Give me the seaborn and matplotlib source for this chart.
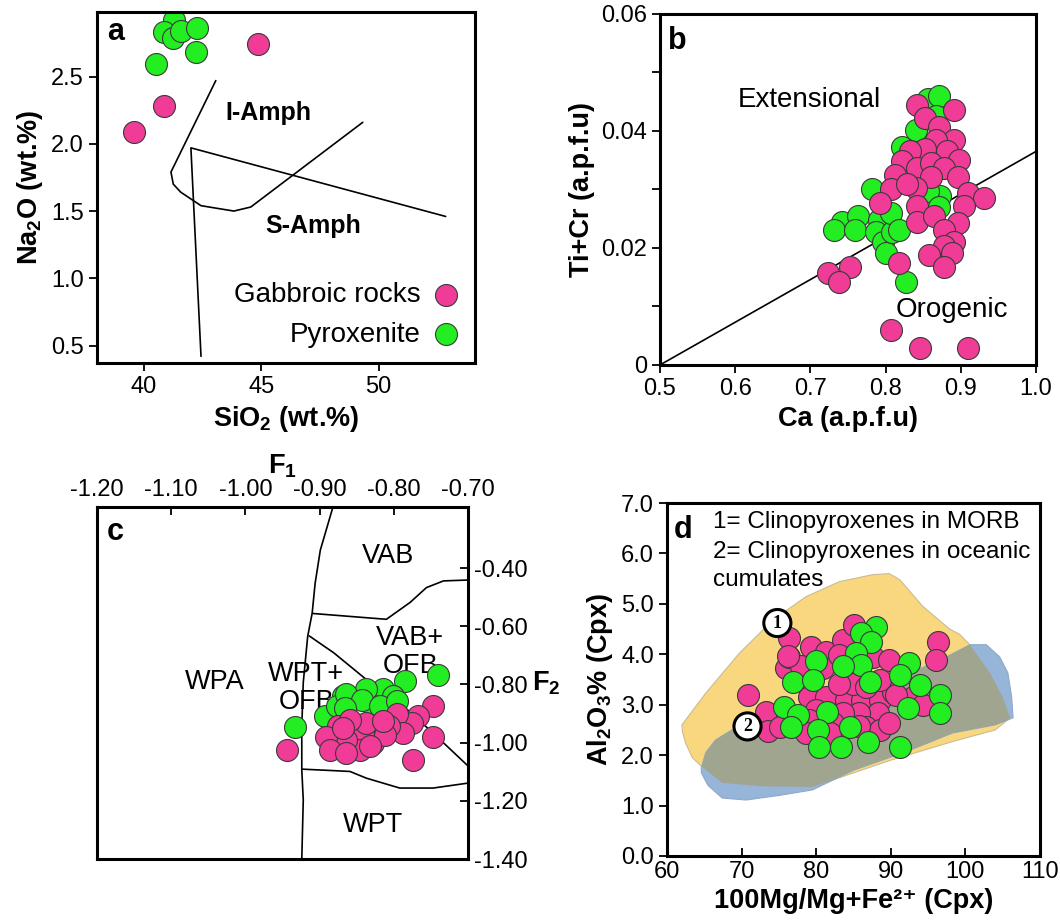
import pandas as pd
import seaborn as sns
import matplotlib.pyplot as plt

PINK = '#F03C96'
GREEN = '#22EE22'
EDGE = '#3a3a3a'

# ---- panel a: Na2O vs SiO2 ----
a_gab_x = [44.85, 40.85, 39.57]
a_gab_y = [2.74, 2.28, 2.09]
a_pyx_x = [41.28, 40.85, 41.23, 41.57, 42.26, 42.21, 40.51]
a_pyx_y = [2.92, 2.83, 2.79, 2.84, 2.86, 2.68, 2.59]
iamph_x = [43.06, 41.15, 41.25, 41.57, 42.43, 43.83, 44.55, 49.32]
iamph_y = [2.47, 1.79, 1.70, 1.64, 1.54, 1.50, 1.53, 2.16]
samph_x = [42.43, 42.0, 52.85]
samph_y = [0.42, 1.97, 1.46]

# ---- panel b: Ti+Cr vs Ca ----
b_gab_x = [0.842, 0.891, 0.853, 0.871, 0.891, 0.867, 0.853, 0.833, 0.882, 0.898, 0.822,
           0.842, 0.860, 0.878, 0.813, 0.860, 0.896, 0.807, 0.840, 0.829, 0.909, 0.931,
           0.793, 0.842, 0.904, 0.842, 0.864, 0.896, 0.878, 0.891, 0.878, 0.858, 0.889,
           0.878, 0.818, 0.753, 0.724, 0.738, 0.807, 0.846, 0.909]
b_gab_y = [0.0445, 0.0435, 0.0422, 0.0407, 0.0385, 0.0385, 0.0370, 0.0365, 0.0365, 0.0350,
           0.0348, 0.0336, 0.0345, 0.0336, 0.0325, 0.0322, 0.0322, 0.0300, 0.0302, 0.0310,
           0.0294, 0.0285, 0.0277, 0.0271, 0.0271, 0.0245, 0.0254, 0.0243, 0.0231, 0.0211,
           0.0203, 0.0188, 0.0191, 0.0168, 0.0175, 0.0168, 0.0157, 0.0142, 0.0060, 0.0029,
           0.0029]
b_pyx_x = [0.742, 0.731, 0.764, 0.760, 0.791, 0.787, 0.796, 0.800, 0.809, 0.807, 0.782,
           0.822, 0.840, 0.856, 0.871, 0.867, 0.827, 0.873, 0.856, 0.871, 0.818]
b_pyx_y = [0.0245, 0.0231, 0.0254, 0.0231, 0.0248, 0.0228, 0.0211, 0.0191, 0.0228, 0.0260,
           0.0300, 0.0373, 0.0402, 0.0454, 0.0460, 0.0425, 0.0141, 0.0288, 0.0297, 0.0270,
           0.0231]
b_line_x = [0.5, 1.0]
b_line_y = [0.0, 0.0365]

# ---- panel c: F2 vs F1 ----
c_gab_x = [-0.944, -0.747, -0.747, -0.774, -0.767, -0.776, -0.796, -0.787, -0.807, -0.819,
           -0.828, -0.841, -0.846, -0.864, -0.875, -0.891, -0.886, -0.864, -0.837, -0.859,
           -0.812, -0.868, -0.832, -0.814]
c_gab_y = [-1.024, -0.875, -0.979, -1.059, -0.910, -0.933, -0.903, -0.967, -0.944, -0.967,
           -1.001, -0.967, -1.024, -0.990, -0.944, -0.979, -1.024, -1.036, -0.933, -0.921,
           -0.972, -0.950, -1.013, -0.927]
c_pyx_x = [-0.933, -0.740, -0.785, -0.814, -0.868, -0.850, -0.828, -0.893, -0.877, -0.801,
           -0.837, -0.864, -0.843, -0.866, -0.819, -0.796]
c_pyx_y = [-0.946, -0.766, -0.789, -0.817, -0.840, -0.846, -0.875, -0.910, -0.875, -0.840,
           -0.817, -0.834, -0.852, -0.881, -0.875, -0.858]
c_bound1_x = [-0.882, -0.899, -0.906, -0.910, -0.916, -0.922, -0.924, -0.924, -0.922, -0.924]
c_bound1_y = [-0.19, -0.338, -0.452, -0.555, -0.634, -0.793, -0.945, -1.093, -1.197, -1.40]
c_bound2_x = [-0.909, -0.810, -0.778, -0.756, -0.733, -0.700]
c_bound2_y = [-0.556, -0.576, -0.518, -0.467, -0.444, -0.441]
c_bound3_x = [-0.914, -0.881, -0.837, -0.792, -0.747, -0.700]
c_bound3_y = [-0.633, -0.691, -0.783, -0.863, -0.967, -1.080]
c_bound4_x = [-0.924, -0.882, -0.859, -0.837, -0.792, -0.747, -0.700]
c_bound4_y = [-1.091, -1.096, -1.099, -1.122, -1.156, -1.156, -1.139]

# ---- panel d: Al2O3 vs Mg# ----
d_gab_x = [76.4, 70.8, 73.3, 73.5, 75.1, 76.0, 76.4, 79.3, 81.3, 78.0, 83.6, 85.1, 80.9,
           83.1, 87.6, 89.8, 96.3, 96.1, 79.1, 81.3, 84.0, 86.2, 88.5, 90.3, 93.0, 94.3,
           88.3, 85.8, 83.6, 80.0, 79.1, 82.2, 86.7, 88.5, 89.8, 84.9, 83.1, 88.5, 86.7,
           90.7, 76.2, 78.6, 81.8, 85.8]
d_gab_y = [4.32, 3.19, 2.86, 2.47, 2.56, 3.72, 3.95, 4.15, 4.05, 3.76, 4.29, 4.58, 3.72,
           3.99, 3.95, 3.89, 4.25, 3.89, 3.16, 3.16, 3.10, 3.10, 3.10, 3.26, 3.16, 3.00,
           2.83, 2.83, 2.83, 2.90, 2.70, 2.63, 2.56, 2.50, 2.63, 3.42, 3.42, 3.49, 3.36,
           3.19, 3.96, 2.43, 2.43, 2.57]
d_pyx_x = [88.0, 86.0, 87.4, 85.4, 86.0, 83.6, 80.0, 92.5, 91.2, 87.2, 76.9, 79.6, 93.9,
           96.6, 96.6, 92.3, 75.7, 77.5, 76.6, 81.5, 80.2, 84.5, 80.4, 83.3, 86.9, 91.2]
d_pyx_y = [4.55, 4.42, 4.25, 4.02, 3.79, 3.76, 3.86, 3.82, 3.59, 3.46, 3.46, 3.49, 3.39,
           3.19, 2.83, 2.93, 2.96, 2.80, 2.56, 2.86, 2.50, 2.56, 2.17, 2.17, 2.27, 2.17]
morb_x = [62.0, 65.2, 69.7, 74.2, 78.6, 83.1, 87.6, 89.8, 91.2, 94.3, 97.9, 99.2, 100.6,
          103.3, 105.0, 106.0, 104.0, 98.3, 90.0, 79.5, 73.0, 67.4, 64.7, 63.4, 62.5, 62.1]
morb_y = [2.60, 3.23, 4.02, 4.68, 5.14, 5.44, 5.58, 5.60, 5.48, 4.95, 4.50, 4.40, 4.19,
          3.63, 3.15, 2.74, 2.50, 2.27, 1.90, 1.37, 1.38, 1.45, 1.77, 1.95, 2.24, 2.45]
cumul_x = [64.6, 65.2, 66.5, 68.7, 72.0, 79.5, 88.5, 97.5, 100.6, 102.8, 104.6, 105.7,
           106.2, 106.4, 104.0, 98.3, 92.1, 85.0, 79.5, 75.0, 70.6, 67.4, 65.5, 64.6]
cumul_y = [1.75, 2.05, 2.30, 2.50, 2.62, 2.90, 3.36, 3.95, 4.19, 4.19, 3.95, 3.63,
           3.16, 2.74, 2.60, 2.44, 2.07, 1.70, 1.31, 1.20, 1.11, 1.15, 1.40, 1.65]

sns.set_style('ticks')
plt.rcParams['font.family'] = ['Liberation Sans', 'DejaVu Sans']
plt.rcParams['mathtext.fontset'] = 'custom'
plt.rcParams['mathtext.rm'] = 'Liberation Sans'
plt.rcParams['mathtext.bf'] = 'Liberation Sans:bold'
for key in ['text.color', 'axes.labelcolor', 'xtick.color', 'ytick.color', 'axes.edgecolor']:
    plt.rcParams[key] = 'black'
plt.rcParams['axes.linewidth'] = 2.2
plt.rcParams['xtick.major.width'] = 1.3
plt.rcParams['ytick.major.width'] = 1.3
plt.rcParams['xtick.minor.width'] = 1.3
plt.rcParams['ytick.minor.width'] = 1.3
plt.rcParams['xtick.major.size'] = 6
plt.rcParams['ytick.major.size'] = 6
plt.rcParams['ytick.minor.size'] = 6
plt.rcParams['xtick.labelsize'] = 17
plt.rcParams['ytick.labelsize'] = 17

fig = plt.figure(figsize=(10.6, 9.24), dpi=100)
ax_a = fig.add_axes([0.0915, 0.6071, 0.3566, 0.3799])
ax_b = fig.add_axes([0.6226, 0.6050, 0.3547, 0.3799])
ax_c = fig.add_axes([0.0915, 0.0703, 0.3500, 0.3810])
ax_d = fig.add_axes([0.6292, 0.0736, 0.3519, 0.3820])

MS = 250
LBL = dict(fontsize=19.5, fontweight='bold')


def dots(ax, x, y, color, label=None):
    sns.scatterplot(x=x, y=y, ax=ax, s=MS, color=color, edgecolor=EDGE,
                    linewidth=0.8, label=label, zorder=3, legend=label is not None)


# a
ax_a.plot(iamph_x, iamph_y, color='black', lw=1.2)
ax_a.plot(samph_x, samph_y, color='black', lw=1.2)
dots(ax_a, a_gab_x, a_gab_y, PINK, 'Gabbroic rocks')
dots(ax_a, a_pyx_x, a_pyx_y, GREEN, 'Pyroxenite')
ax_a.set_xlim(38.0, 54.1)
ax_a.set_ylim(0.37, 2.98)
ax_a.set_xticks([40, 45, 50])
ax_a.set_yticks([0.5, 1.0, 1.5, 2.0, 2.5])
ax_a.set_yticklabels(['0.5', '1.0', '1.5', '2.0', '2.5'])
ax_a.set_xlabel(r'SiO$_\mathbf{2}$ (wt.%)', **LBL)
ax_a.set_ylabel(r'Na$_\mathbf{2}$O (wt.%)', **LBL)
ax_a.text(45.3, 2.23, 'I-Amph', fontsize=18, fontweight='bold', ha='center', va='center')
ax_a.text(47.2, 1.39, 'S-Amph', fontsize=18, fontweight='bold', ha='center', va='center')
ax_a.legend(loc='lower right', markerfirst=False, frameon=False, fontsize=20,
            handlelength=1.0, handletextpad=0.4, borderaxespad=0.15, labelspacing=0.5)
ax_a.text(0.048, 0.943, 'a', transform=ax_a.transAxes, fontsize=22, fontweight='bold',
          ha='center', va='center')

# b
ax_b.plot(b_line_x, b_line_y, color='black', lw=1.2)
dots(ax_b, b_pyx_x, b_pyx_y, GREEN)
dots(ax_b, b_gab_x, b_gab_y, PINK)
ax_b.set_xlim(0.5, 1.0)
ax_b.set_ylim(0, 0.06)
ax_b.set_xticks([0.5, 0.6, 0.7, 0.8, 0.9, 1.0])
ax_b.set_xticklabels(['0.5', '0.6', '0.7', '0.8', '0.9', '1.0'])
ax_b.set_yticks([0, 0.02, 0.04, 0.06])
ax_b.set_yticklabels(['0', '0.02', '0.04', '0.06'])
ax_b.set_yticks([0.01, 0.03, 0.05], minor=True)
ax_b.set_xlabel('Ca (a.p.f.u)', **LBL)
ax_b.set_ylabel('Ti+Cr (a.p.f.u)', **LBL)
ax_b.text(0.699, 0.0453, 'Extensional', fontsize=20, ha='center', va='center')
ax_b.text(0.888, 0.0094, 'Orogenic', fontsize=20, ha='center', va='center')
ax_b.text(0.045, 0.923, 'b', transform=ax_b.transAxes, fontsize=22, fontweight='bold',
          ha='center', va='center')

# c
for bx, by in [(c_bound1_x, c_bound1_y), (c_bound2_x, c_bound2_y),
               (c_bound3_x, c_bound3_y), (c_bound4_x, c_bound4_y)]:
    ax_c.plot(bx, by, color='black', lw=1.2)
dots(ax_c, c_pyx_x, c_pyx_y, GREEN)
dots(ax_c, c_gab_x, c_gab_y, PINK)
ax_c.set_xlim(-1.2, -0.7)
ax_c.set_ylim(-1.4, -0.19)
ax_c.xaxis.tick_top()
ax_c.xaxis.set_label_position('top')
ax_c.yaxis.tick_right()
ax_c.yaxis.set_label_position('right')
ax_c.tick_params(direction='in')
ax_c.set_xticks([-1.2, -1.1, -1.0, -0.9, -0.8, -0.7])
ax_c.set_xticklabels(['-1.20', '-1.10', '-1.00', '-0.90', '-0.80', '-0.70'])
ax_c.set_yticks([-1.4, -1.2, -1.0, -0.8, -0.6, -0.4])
ax_c.set_yticklabels(['-1.40', '-1.20', '-1.00', '-0.80', '-0.60', '-0.40'])
ax_c.tick_params(axis='x', pad=4)
ax_c.tick_params(axis='y', pad=4)
ax_c.set_xlabel(r'F$_\mathbf{1}$', labelpad=4, **LBL)
ax_c.set_ylabel(r'F$_\mathbf{2}$', rotation=0, labelpad=14, va='center', **LBL)
for txt, tx, ty in [('VAB', -0.808, -0.359), ('VAB+\nOFB', -0.778, -0.69),
                    ('WPT+\nOFB', -0.918, -0.812), ('WPA', -1.041, -0.793),
                    ('WPT', -0.828, -1.283)]:
    ax_c.text(tx, ty, txt, fontsize=19.5, ha='center', va='center', linespacing=1.1, zorder=2)
ax_c.text(0.049, 0.929, 'c', transform=ax_c.transAxes, fontsize=22, fontweight='bold',
          ha='center', va='center')

# d
yellow = ax_d.fill(morb_x, morb_y, facecolor='#F9D77F', edgecolor='#C9BC94', lw=0.8, zorder=1)[0]
ax_d.fill(cumul_x, cumul_y, facecolor='#96B5D9', edgecolor='#8FA9C9', lw=0.8, zorder=1)
overlap = ax_d.fill(cumul_x, cumul_y, facecolor='#A0A590', edgecolor='none', zorder=1.5)[0]
overlap.set_clip_path(yellow)
dots(ax_d, d_gab_x, d_gab_y, PINK)
dots(ax_d, d_pyx_x, d_pyx_y, GREEN)
ax_d.set_xlim(60, 110)
ax_d.set_ylim(0, 7)
ax_d.set_xticks([60, 70, 80, 90, 100, 110])
ax_d.set_yticks(range(0, 8))
ax_d.set_yticklabels([f'{v:.1f}' for v in range(0, 8)])
ax_d.tick_params(axis='x', direction='in')
ax_d.set_xlabel('100Mg/Mg+Fe²⁺ (Cpx)', **LBL)
ax_d.set_ylabel(r'Al$_\mathbf{2}$O$_\mathbf{3}$% (Cpx)', **LBL)
for lab, lx, ly in [('1', 74.8, 4.62), ('2', 70.8, 2.57)]:
    ax_d.text(lx, ly, lab, fontsize=13, fontweight='bold', family='Liberation Serif',
              ha='center', va='center', zorder=4,
              bbox=dict(boxstyle='circle,pad=0.28', fc='white', ec='black', lw=2.2))
ax_d.text(0.123, 0.946, '1= Clinopyroxenes in MORB', transform=ax_d.transAxes,
          fontsize=17.5, va='center')
ax_d.text(0.123, 0.861, '2= Clinopyroxenes in oceanic', transform=ax_d.transAxes,
          fontsize=17.5, va='center')
ax_d.text(0.123, 0.782, 'cumulates', transform=ax_d.transAxes, fontsize=17.5, va='center')
ax_d.text(0.043, 0.924, 'd', transform=ax_d.transAxes, fontsize=22, fontweight='bold',
          ha='center', va='center')

for ax in (ax_a, ax_b, ax_c, ax_d):
    for sp in ax.spines.values():
        sp.set_visible(True)
        sp.set_zorder(5)

fig.savefig('out.png', dpi=100)
